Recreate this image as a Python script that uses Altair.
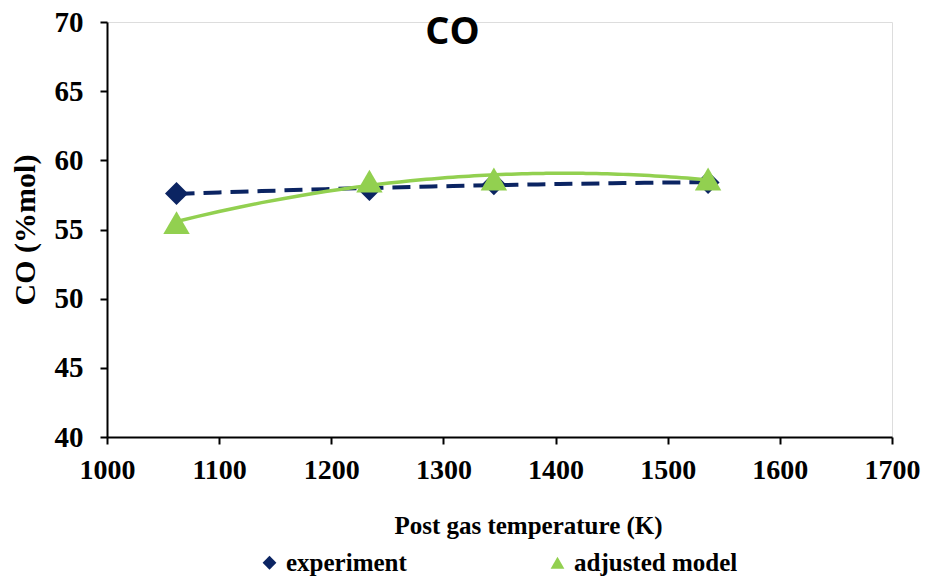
import altair as alt
import pandas as pd

temps = [1062, 1234, 1345, 1536]
experiment = [57.6, 57.9, 58.3, 58.4]
adjusted_model = [55.5, 58.5, 58.65, 58.65]
series_names = ["experiment", "adjusted model"]
x_ticks = [1000, 1100, 1200, 1300, 1400, 1500, 1600, 1700]
y_ticks = [40, 45, 50, 55, 60, 65, 70]

rows = []
for t, v in zip(temps, experiment):
    rows.append({"temp": t, "value": v, "series": "experiment"})
for t, v in zip(temps, adjusted_model):
    rows.append({"temp": t, "value": v, "series": "adjusted model"})
df = pd.DataFrame(rows)

NAVY = "#0b2462"
GREEN = "#92D050"
SERIF = "Liberation Serif"

xscale = alt.Scale(domain=[1000, 1700], nice=False, zero=False)
yscale = alt.Scale(domain=[40, 70], nice=False, zero=False)

x_axis = alt.Axis(values=x_ticks, title="Post gas temperature (K)", grid=False,
                  labelFont=SERIF, labelFontWeight="bold", labelFontSize=28,
                  labelColor="black", labelPadding=12, tickSize=7, tickWidth=2,
                  labelFlush=False, labelOverlap=False,
                  tickColor="black", domainColor="black", domainWidth=2,
                  titleFont=SERIF, titleFontWeight="bold", titleFontSize=25,
                  titleColor="black", titlePadding=29, titleX=421, format="d")
y_axis = alt.Axis(values=y_ticks, title="CO (%mol)", grid=False,
                  labelFont=SERIF, labelFontWeight="bold", labelFontSize=29,
                  labelColor="black", labelPadding=17, tickSize=7, tickWidth=2,
                  labelFlush=False, labelOverlap=False,
                  tickColor="black", domainColor="black", domainWidth=2,
                  titleFont=SERIF, titleFontWeight="bold", titleFontSize=30,
                  titleColor="black", titlePadding=14)

base = alt.Chart(df)

color = alt.Color("series:N", scale=alt.Scale(domain=series_names, range=[NAVY, GREEN]),
                  legend=alt.Legend(title=None, orient="none", direction="horizontal",
                                    legendX=150, legendY=528, columnPadding=138,
                                    labelFont=SERIF, labelFontWeight="bold",
                                    labelFontSize=25, labelColor="black", labelLimit=0,
                                    symbolSize=190, labelOffset=4, symbolStrokeWidth=0))
shape = alt.Shape("series:N", scale=alt.Scale(domain=series_names, range=["diamond", "triangle-up"]))

exp_line = base.transform_filter(alt.datum.series == "experiment").transform_regression(
    "temp", "value", method="poly", order=2, extent=[1062, 1536]
).mark_line(color=NAVY, strokeWidth=4, strokeDash=[18, 9]).encode(
    x=alt.X("temp:Q", scale=xscale, axis=x_axis),
    y=alt.Y("value:Q", scale=yscale, axis=y_axis),
)

exp_pts = base.transform_filter(alt.datum.series == "experiment").mark_point(
    filled=True, opacity=1, size=530
).encode(
    x=alt.X("temp:Q", scale=xscale),
    y=alt.Y("value:Q", scale=yscale),
    color=color, shape=shape,
)

mod_line = base.transform_filter(alt.datum.series == "adjusted model").transform_regression(
    "temp", "value", method="poly", order=2, extent=[1062, 1536]
).mark_line(color=GREEN, strokeWidth=3.5).encode(
    x=alt.X("temp:Q", scale=xscale),
    y=alt.Y("value:Q", scale=yscale),
)

mod_pts = base.transform_filter(alt.datum.series == "adjusted model").mark_point(
    filled=True, opacity=1, size=700
).encode(
    x=alt.X("temp:Q", scale=xscale),
    y=alt.Y("value:Q", scale=yscale),
    color=color, shape=shape,
)

chart = alt.layer(exp_line, exp_pts, mod_line, mod_pts).properties(
    width=785, height=415,
    title=alt.TitleParams("CO", font="Open Sans", fontWeight="bold", fontSize=38,
                          color="black", anchor="middle", dx=-47, dy=48),
    autosize=alt.AutoSizeParams(type="none"),
    padding={"left": 107, "top": 22, "right": 37, "bottom": 143},
).configure_view(stroke=None).configure(background="white")

chart.save("out.html", embed_options={"renderer": "svg", "actions": False})
